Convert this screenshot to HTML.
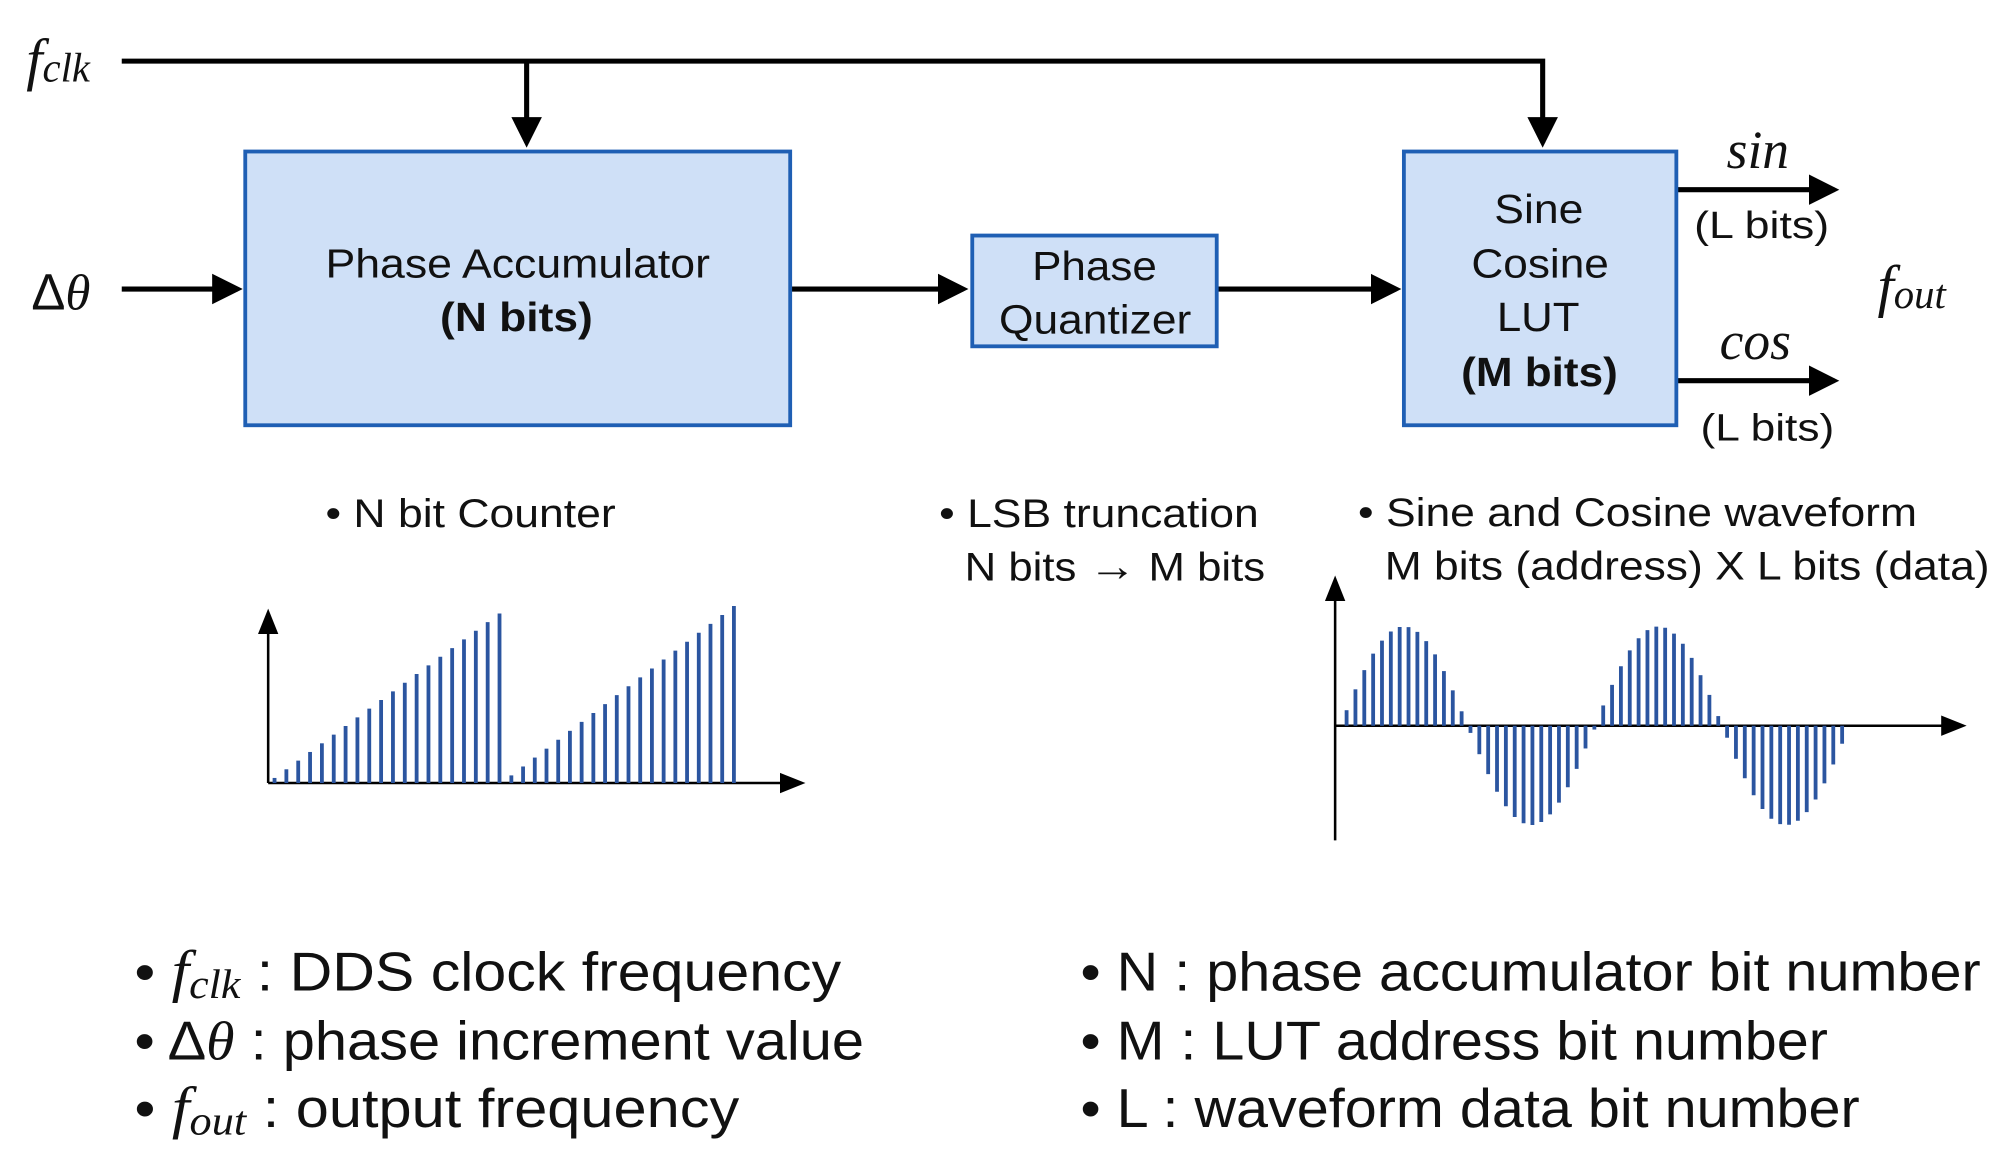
<!DOCTYPE html>
<html><head><meta charset="utf-8"><style>
html,body{margin:0;padding:0;background:#fff;}
svg{display:block;}
text{font-family:"Liberation Sans",sans-serif;fill:#111;}
.it{font-family:"Liberation Serif",serif;font-style:italic;}
</style></head><body>
<svg id="s" width="1998" height="1165" viewBox="0 0 1568 915" xmlns="http://www.w3.org/2000/svg">
<defs><marker id="ar" markerWidth="6" markerHeight="6" refX="5" refY="3" orient="auto" markerUnits="strokeWidth"><path d="M0,0 L6,3 L0,6 z" fill="#000"/></marker>
<marker id="ar2" markerWidth="10" markerHeight="10" refX="8" refY="5" orient="auto" markerUnits="strokeWidth"><path d="M0,1 L10,5 L0,9 z" fill="#000"/></marker></defs>
<g stroke="#000" stroke-width="4" fill="none">
<polyline points="95,48 1211,48 1211,112" marker-end="url(#ar)"/>
<line x1="413" y1="48" x2="413" y2="112" marker-end="url(#ar)"/>
<line x1="95" y1="227" x2="186" y2="227" marker-end="url(#ar)"/>
<line x1="620" y1="227" x2="756" y2="227" marker-end="url(#ar)"/>
<line x1="955" y1="227" x2="1096" y2="227" marker-end="url(#ar)"/>
<line x1="1316" y1="149" x2="1440" y2="149" marker-end="url(#ar)"/>
<line x1="1316" y1="299" x2="1440" y2="299" marker-end="url(#ar)"/>
</g>
<g fill="#cfe0f7" stroke="#1f5fb4" stroke-width="3">
<rect x="192" y="119" width="428" height="215"/>
<rect x="763" y="185" width="192" height="87"/>
<rect x="1102" y="119" width="214" height="215"/>
</g>
<text class="it" x="20" y="62" font-size="46">f<tspan font-size="32" dy="2">clk</tspan></text>
<text x="24" y="243" font-size="40"><tspan>Δ</tspan><tspan class="it">θ</tspan></text>
<text x="255" y="218" font-size="32" textLength="302" lengthAdjust="spacingAndGlyphs">Phase Accumulator</text>
<text x="345" y="260" font-size="32" font-weight="bold" textLength="120" lengthAdjust="spacingAndGlyphs">(N bits)</text>
<text x="810" y="220" font-size="32" textLength="98" lengthAdjust="spacingAndGlyphs">Phase</text>
<text x="784" y="262" font-size="32" textLength="151" lengthAdjust="spacingAndGlyphs">Quantizer</text>
<text x="1173" y="175" font-size="32" textLength="70" lengthAdjust="spacingAndGlyphs">Sine</text>
<text x="1155" y="218" font-size="32" textLength="108" lengthAdjust="spacingAndGlyphs">Cosine</text>
<text x="1175" y="260" font-size="32" textLength="65" lengthAdjust="spacingAndGlyphs">LUT</text>
<text x="1147" y="303" font-size="32" font-weight="bold" textLength="123" lengthAdjust="spacingAndGlyphs">(M bits)</text>
<text class="it" x="1380" y="132" font-size="42" text-anchor="middle">sin</text>
<text x="1330" y="187" font-size="30" textLength="106" lengthAdjust="spacingAndGlyphs">(L bits)</text>
<text class="it" x="1378" y="282" font-size="42" text-anchor="middle">cos</text>
<text x="1335" y="346" font-size="30" textLength="105" lengthAdjust="spacingAndGlyphs">(L bits)</text>
<text class="it" x="1474" y="240" font-size="46">f<tspan font-size="32" dy="2">out</tspan></text>
<text x="255" y="414" font-size="31" textLength="228" lengthAdjust="spacingAndGlyphs">• N bit Counter</text>
<text x="737" y="414" font-size="31" textLength="251" lengthAdjust="spacingAndGlyphs">• LSB truncation</text>
<text x="757" y="456" font-size="31" textLength="236" lengthAdjust="spacingAndGlyphs">N bits <tspan font-size="34">→</tspan> M bits</text>
<text x="1066" y="413" font-size="31" textLength="439" lengthAdjust="spacingAndGlyphs">• Sine and Cosine waveform</text>
<text x="1087" y="455" font-size="31" textLength="475" lengthAdjust="spacingAndGlyphs">M bits (address) X L bits (data)</text>
<g stroke="#000" stroke-width="2" fill="none">
<line x1="210" y1="615" x2="210" y2="482" marker-end="url(#ar2)"/>
<line x1="210" y1="615" x2="628" y2="615" marker-end="url(#ar2)"/>
<line x1="1048" y1="660" x2="1048" y2="456" marker-end="url(#ar2)"/>
<line x1="1048" y1="570" x2="1540" y2="570" marker-end="url(#ar2)"/>
</g>
<g id="bars" stroke="#2b55a0" stroke-width="3"></g>
<text x="105" y="778" font-size="43" textLength="555" lengthAdjust="spacingAndGlyphs">• <tspan class="it" font-size="46">f<tspan font-size="32" dy="6">clk</tspan></tspan><tspan dy="-6"> : DDS clock frequency</tspan></text>
<text x="105" y="832" font-size="43" textLength="573" lengthAdjust="spacingAndGlyphs">• Δ<tspan class="it">θ</tspan> : phase increment value</text>
<text x="105" y="885" font-size="43" textLength="475" lengthAdjust="spacingAndGlyphs">• <tspan class="it" font-size="46">f<tspan font-size="32" dy="6">out</tspan></tspan><tspan dy="-6"> : output frequency</tspan></text>
<text x="848" y="778" font-size="43" textLength="707" lengthAdjust="spacingAndGlyphs">• N : phase accumulator bit number</text>
<text x="848" y="832" font-size="43" textLength="587" lengthAdjust="spacingAndGlyphs">• M : LUT address bit number</text>
<text x="848" y="885" font-size="43" textLength="612" lengthAdjust="spacingAndGlyphs">• L : waveform data bit number</text>
</svg>
<script>
var g=document.getElementById('bars'),ns='http://www.w3.org/2000/svg';
function L(x,y1,y2){var l=document.createElementNS(ns,'line');l.setAttribute('x1',x);l.setAttribute('x2',x);l.setAttribute('y1',y1);l.setAttribute('y2',y2);g.appendChild(l);}
for(var i=0;i<20;i++){L(215+i*9.3,615,611-i*6.8);L(401+i*9.2,615,609-i*7.0);}
for(var i=0;i<57;i++){var x=1057+i*6.95;if(x>1450)break;var ph=(x-1052)/200*2*Math.PI;var v=Math.sin(ph)*78;if(Math.abs(v)<3)v=v<0?-3:3;L(x,570,570-v);}
</script>
</body></html>
